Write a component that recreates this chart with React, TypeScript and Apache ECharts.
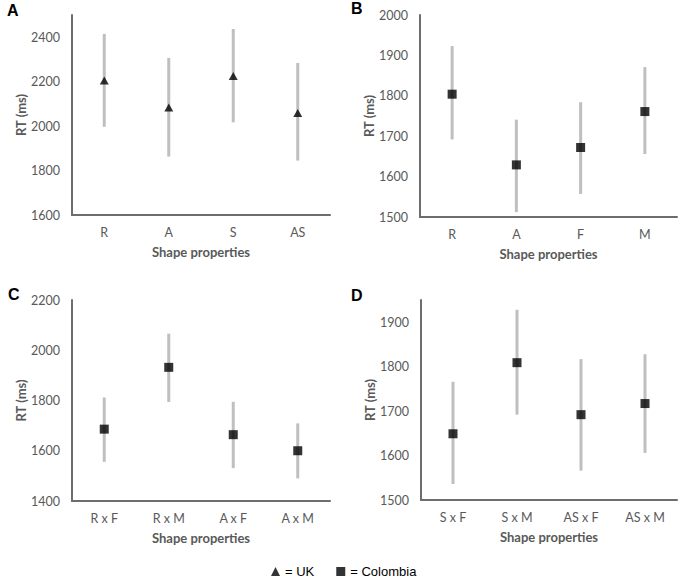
import React, { useEffect, useRef } from "react";
import * as echarts from "echarts";

const catsA = ["R", "A", "S", "AS"];
const meanA = [2205, 2084, 2225, 2059];
const lowA = [1997, 1863, 2017, 1845];
const highA = [2415, 2307, 2437, 2284];

const catsB = ["R", "A", "F", "M"];
const meanB = [1804, 1629, 1672, 1761];
const lowB = [1692, 1512, 1557, 1656];
const highB = [1923, 1741, 1784, 1871];

const catsC = ["R x F", "R x M", "A x F", "A x M"];
const meanC = [1686, 1932, 1664, 1600];
const lowC = [1556, 1794, 1531, 1490];
const highC = [1812, 2066, 1795, 1709];

const catsD = ["S x F", "S x M", "AS x F", "AS x M"];
const meanD = [1649, 1809, 1692, 1717];
const lowD = [1536, 1692, 1566, 1606];
const highD = [1766, 1928, 1817, 1828];

const yRanges = [
  { min: 1600, max: 2500, interval: 200 },
  { min: 1500, max: 2000, interval: 100 },
  { min: 1400, max: 2200, interval: 200 },
  { min: 1500, max: 1950, interval: 100 },
];

const panels = [
  { cats: catsA, mean: meanA, low: lowA, high: highA, name: "UK", symbol: "triangle" },
  { cats: catsB, mean: meanB, low: lowB, high: highB, name: "Colombia", symbol: "rect" },
  { cats: catsC, mean: meanC, low: lowC, high: highC, name: "Colombia", symbol: "rect" },
  { cats: catsD, mean: meanD, low: lowD, high: highD, name: "Colombia", symbol: "rect" },
];

const FONT = "Lato, 'Open Sans', sans-serif";
const GRAY = "#595959";

export default function App() {
  const ref = useRef<HTMLDivElement>(null);
  useEffect(() => {
    if (!ref.current) return;
    const chart = echarts.init(ref.current, undefined, { renderer: "svg" });
    const grids = [
      { left: 72, top: 15, width: 258, height: 200 },
      { left: 420, top: 15, width: 257, height: 202 },
      { left: 72, top: 300, width: 258, height: 201 },
      { left: 421, top: 300, width: 256, height: 200 },
    ];
    const axisLine = { show: true, lineStyle: { color: "#6d6d6d", width: 2 } };
    const xAxis = panels.map((p, i) => ({
      type: "category",
      gridIndex: i,
      data: p.cats,
      boundaryGap: true,
      axisLine,
      axisTick: { show: false },
      axisLabel: { color: GRAY, fontFamily: FONT, fontSize: 12.5, margin: 11 },
      name: "Shape properties",
      nameLocation: "middle",
      nameGap: 30,
      nameTextStyle: { color: GRAY, fontFamily: FONT, fontSize: 13, fontWeight: "bold" },
    }));
    const yAxis = panels.map((p, i) => ({
      type: "value",
      gridIndex: i,
      min: yRanges[i].min,
      max: yRanges[i].max,
      interval: yRanges[i].interval,
      axisLine,
      axisTick: { show: false },
      splitLine: { show: false },
      axisLabel: {
        color: GRAY,
        fontFamily: FONT,
        fontSize: 12.5,
        margin: 12,
        formatter: (v: number) => (v % yRanges[i].interval === 0 ? String(v) : ""),
      },
      name: "RT (ms)",
      nameLocation: "middle",
      nameRotate: 90,
      nameGap: 44,
      nameTextStyle: { color: GRAY, fontFamily: FONT, fontSize: 13, fontWeight: "bold" },
    }));
    const series: any[] = [];
    panels.forEach((p, i) => {
      series.push({
        type: "custom",
        xAxisIndex: i,
        yAxisIndex: i,
        z: 1,
        encode: { x: 0, y: [1, 2] },
        data: p.cats.map((_, j) => [j, p.low[j], p.high[j]]),
        renderItem: (params: any, api: any) => {
          const x = api.value(0);
          const a = api.coord([x, api.value(1)]);
          const b = api.coord([x, api.value(2)]);
          return {
            type: "line",
            shape: { x1: a[0], y1: a[1], x2: b[0], y2: b[1] },
            style: { stroke: "#bfbfbf", lineWidth: 3 },
          };
        },
      });
      series.push({
        type: "scatter",
        name: p.name,
        xAxisIndex: i,
        yAxisIndex: i,
        z: 3,
        symbol: p.symbol,
        symbolSize: p.symbol === "triangle" ? [9, 8] : 9,
        itemStyle: { color: "#000" },
        data: p.mean,
      });
    });
    const letter = (t: string, x: number, y: number) => ({
      type: "text",
      left: x,
      top: y,
      style: { text: t, fill: "#000", font: "bold 16px 'Liberation Sans', Arial, sans-serif" },
    });
    chart.setOption({
      animation: false,
      grid: grids,
      xAxis,
      yAxis,
      series,
      legend: {
        data: ["UK", "Colombia"],
        left: 271,
        top: 565,
        padding: 0,
        itemWidth: 9,
        itemHeight: 9,
        itemGap: 22,
        formatter: (n: string) => "= " + n,
        textStyle: { color: "#000", fontFamily: "'Liberation Sans', Arial, sans-serif", fontSize: 13 },
      },
      graphic: [
        letter("A", 7, 2),
        letter("B", 351, 0),
        letter("C", 8, 286),
        letter("D", 351, 287),
      ],
    });
    return () => chart.dispose();
  }, []);
  return (
    <div
      ref={ref}
      style={{ position: "absolute", left: 0, top: 0, width: 680, height: 579, background: "#fff" }}
    />
  );
}
